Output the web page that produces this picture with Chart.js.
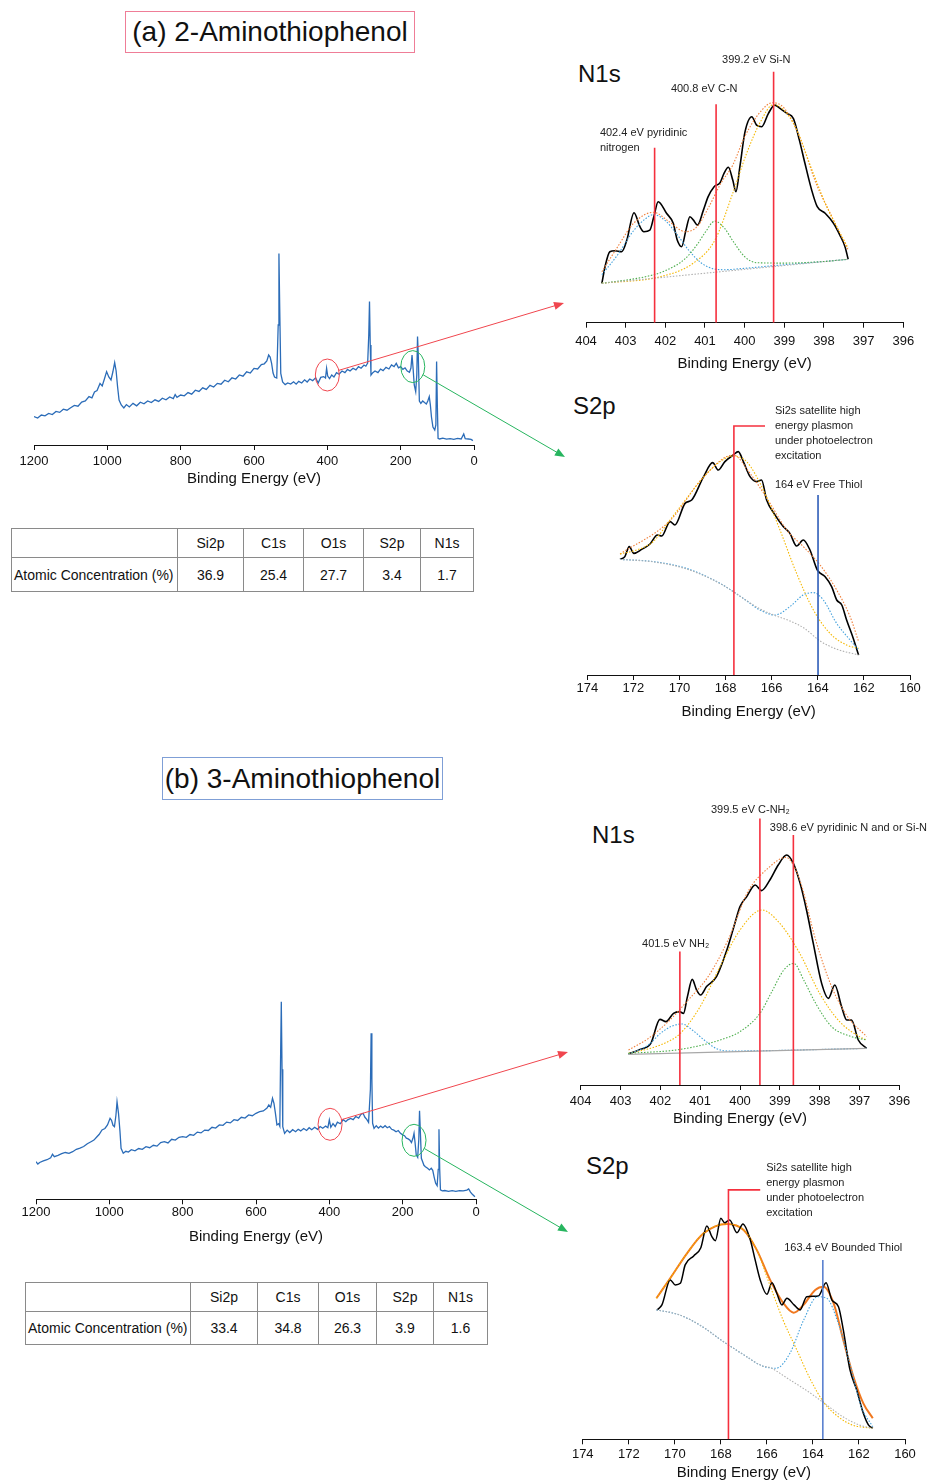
<!DOCTYPE html>
<html lang="en">
<head>
  <meta charset="UTF-8">
  <title>XPS - Aminothiophenol</title>
  <script src="https://cdn.jsdelivr.net/npm/chart.js"></script>
  <style>
    body {
      margin: 0;
      width: 934px;
      height: 1482px;
      position: relative;
      overflow: hidden;
      background: #fff;
      color: #111;
      font-family: 'Liberation Sans', Arial, sans-serif;
    }
    canvas { position: absolute; }
    .title {
      position: absolute;
      box-sizing: border-box;
      font-size: 28px;
      text-align: center;
      white-space: nowrap;
    }
    .big {
      position: absolute;
      font-size: 24px;
      line-height: 24px;
    }
    table {
      position: absolute;
      border-collapse: collapse;
      font-size: 14px;
      table-layout: fixed;
    }
    td {
      border: 1px solid #8a8a8a;
      text-align: center;
      padding: 0;
    }
    td.lab { text-align: left; padding-left: 2px; }
  </style>
</head>
<body>
  <div class="title" style="left:125px;top:11px;width:290px;height:42px;line-height:40px;border:1px solid #ef7d97">(a) 2-Aminothiophenol</div>
  <div class="title" style="left:162px;top:757px;width:281px;height:43px;line-height:41px;border:1px solid #7f9fd6">(b) 3-Aminothiophenol</div>

  <div class="big" style="left:578px;top:62px">N1s</div>
  <div class="big" style="left:573px;top:394px">S2p</div>
  <div class="big" style="left:592px;top:823px">N1s</div>
  <div class="big" style="left:586px;top:1154px">S2p</div>

  <table id="tabA" style="left:11px;top:528px;width:462px"></table>
  <table id="tabB" style="left:25px;top:1282px;width:462px"></table>

  <canvas id="n1sA" width="374" height="350" style="left:560px;top:30px"></canvas>
  <canvas id="s2pA" width="364" height="334" style="left:570px;top:395px"></canvas>
  <canvas id="n1sB" width="374" height="346" style="left:560px;top:790px"></canvas>
  <canvas id="s2pB" width="364" height="326" style="left:570px;top:1160px"></canvas>
  <canvas id="surveyA" width="580" height="266" style="left:0;top:230px"></canvas>
  <canvas id="surveyB" width="580" height="268" style="left:0;top:985px"></canvas>

  <script>
    // ---- atomic concentration tables ----
    const elements = ['Si2p', 'C1s', 'O1s', 'S2p', 'N1s'];
    const concA = [36.9, 25.4, 27.7, 3.4, 1.7];
    const concB = [33.4, 34.8, 26.3, 3.9, 1.6];

    // ---- survey spectra [binding energy, intensity] ----
    const surveyA = [
      [1200,14.2],[1190,13.5],[1180,15.0],[1170,14.6],[1160,15.8],[1150,15.2],[1140,16.8],[1130,16.3],
      [1120,17.9],[1110,17.4],[1100,18.6],[1090,19.8],[1080,19.4],[1070,21.5],[1060,22.0],[1050,24.2],
      [1042,23.6],[1035,26.5],[1028,27.2],[1020,30.8],[1014,29.5],[1008,33.0],[1002,36.7],[996,34.0],
      [990,32.5],[985,36.5],[980,41.2],[976,37.0],[972,29.0],[968,22.5],[962,20.0],[955,18.5],
      [948,20.2],[940,19.0],[930,20.8],[920,19.6],[910,21.4],[900,20.6],[890,22.0],[880,21.2],
      [870,22.6],[860,21.8],[850,23.4],[840,22.6],[830,24.0],[820,23.2],[815,25.2],[810,23.8],
      [800,25.0],[790,24.6],[780,26.2],[770,25.4],[760,27.4],[750,26.8],[740,28.6],[730,27.8],
      [720,29.8],[710,29.0],[700,30.8],[690,30.4],[680,32.4],[670,31.6],[660,33.6],[650,33.0],
      [640,35.0],[630,34.4],[620,36.6],[610,36.0],[600,38.3],[590,38.0],[580,40.2],[572,40.6],
      [565,42.0],[560,45.0],[556,44.0],[552,40.8],[548,36.0],[544,34.0],[538,33.5],[534,60],
      [532,95.8],[530,70],[527,35.8],[522,31.5],[515,30.2],[508,31.0],[500,30.5],[492,31.6],
      [485,30.4],[478,31.8],[470,31.0],[462,32.6],[455,31.5],[448,33.0],[440,32.2],[432,33.6],
      [425,31.0],[418,33.8],[410,34.2],[405,33.5],[402,38.3],[399,34.5],[394,33.2],[388,35.0],
      [382,34.0],[375,36.2],[368,35.4],[360,37.0],[352,36.2],[345,37.8],[338,37.0],[330,38.4],
      [322,37.6],[315,39.2],[308,38.4],[300,40.0],[295,39.4],[290,41.0],[287,55],[285,71.7],
      [283,50],[281,35.0],[276,36.2],[270,37.0],[262,36.2],[255,38.0],[248,37.2],[240,38.8],
      [232,38.0],[225,40.0],[218,39.2],[212,40.8],[206,38.6],[200,39.2],[194,37.8],[188,38.6],
      [182,37.0],[176,36.4],[172,38.5],[169,45.0],[166,38.0],[163,30.0],[159,26.7],[156,35],
      [154,54.2],[152,45],[149,22.0],[145,20.8],[140,22.0],[135,21.2],[130,20.5],[126,22.0],
      [122,24.2],[119,20.0],[116,14.0],[112,9.0],[107,7.5],[104,10],[102,41.7],[100,20],
      [98,3.3],[94,3.0],[85,3.4],[75,2.9],[65,3.2],[55,2.8],[45,3.3],[35,3.0],
      [28,5.5],[24,3.2],[15,3.0],[8,2.8],[3,2.2]
    ];
    const surveyB = [
      [1200,18.8],[1195,17.6],[1190,18.4],[1180,19.2],[1170,19.8],[1160,20.8],[1155,22.5],[1150,21.3],
      [1140,22.0],[1130,22.8],[1120,23.4],[1110,23.0],[1100,23.8],[1090,25.0],[1080,25.6],[1070,26.4],
      [1060,27.8],[1050,28.8],[1042,29.6],[1035,31.0],[1028,32.4],[1020,34.7],[1012,35.4],[1005,37.2],
      [998,40.5],[994,39.5],[990,37.0],[986,36.3],[982,42],[979,48.8],[975,43.0],[971,34.0],
      [968,25.5],[962,23.0],[955,24.0],[948,23.6],[940,24.8],[930,24.2],[920,25.4],[910,25.0],
      [900,26.3],[890,25.8],[880,27.0],[870,26.6],[860,28.4],[850,28.8],[840,28.2],[830,30.0],
      [820,29.6],[810,31.0],[800,31.3],[790,31.0],[780,32.4],[770,32.0],[760,33.6],[750,33.2],
      [740,34.6],[730,34.4],[720,36.0],[710,35.6],[700,37.2],[690,37.0],[680,38.6],[670,38.2],
      [660,39.8],[650,39.4],[640,41.0],[630,40.6],[620,42.2],[610,41.8],[600,43.0],[590,43.8],
      [580,44.2],[570,45.6],[565,47.2],[560,46.0],[555,50.5],[551,48.0],[547,43.0],[543,37.2],
      [538,37.8],[535,36.5],[533,70],[531,98.8],[529,65],[527,36.3],[522,33.0],[515,34.6],
      [508,33.4],[500,34.8],[492,33.8],[485,35.0],[478,34.2],[470,35.4],[462,34.4],[455,35.8],
      [448,34.8],[440,36.0],[432,35.0],[425,36.4],[418,35.5],[410,36.6],[404,35.8],[400,39.7],
      [396,36.0],[390,37.8],[384,36.4],[378,38.6],[370,37.8],[362,39.8],[355,38.8],[350,39.7],
      [342,40.4],[335,39.8],[328,41.4],[320,40.6],[314,42.4],[308,43.0],[303,41.0],[298,40.0],
      [293,38.5],[288,55],[286,83.0],[284,60],[282,38.0],[278,35.5],[272,36.8],[266,35.6],
      [260,36.6],[254,35.8],[248,36.8],[242,35.8],[236,36.4],[230,35.0],[224,34.6],[218,33.8],
      [212,34.4],[206,33.0],[200,32.2],[195,31.8],[190,30.6],[185,30.2],[180,29.5],[176,28.4],
      [172,30.5],[169,33.0],[166,28],[163,22.2],[159,21.0],[156,30],[154,44.3],[152,35],
      [149,20.5],[146,19.0],[142,17.0],[138,16.3],[132,15.5],[127,14.7],[122,15.5],[118,14.5],
      [114,11.0],[110,8.0],[106,6.8],[103,15],[101,35.0],[99,15],[97,4.7],[92,4.2],
      [85,4.4],[75,4.0],[65,4.3],[55,4.0],[45,4.3],[35,4.2],[25,4.6],[20,5.2],
      [15,3.6],[10,2.5],[3,1.3]
    ];

    // ---- N1s (a) ----
    const n1sA_raw = [
      [403.6,19.7],[403.52,28],[403.4,35.5],[403.27,36],[403.1,35.5],[402.97,41.3],[402.79,55],[402.64,48],
      [402.54,45.5],[402.39,46.3],[402.29,53],[402.18,60.5],[401.97,54.7],[401.8,49.7],[401.7,41.3],[401.59,38],
      [401.48,46.3],[401.38,53],[401.29,51.3],[401.19,48.8],[401.04,56.3],[400.92,63],[400.77,68],[400.62,70],
      [400.52,74.7],[400.41,77.7],[400.3,71.3],[400.22,65.5],[400.12,78],[399.99,95.5],[399.82,103],[399.7,98.8],
      [399.57,98],[399.4,104.7],[399.24,108.8],[399.11,107.2],[398.94,104.7],[398.77,102],[398.62,91.3],[398.48,79.7],
      [398.31,66.3],[398.17,58],[397.97,54.7],[397.76,49.7],[397.6,43.8],[397.47,38],[397.39,31.7]
    ];
    const n1sA_bg = [[403.6,19.7],[397.4,31.7]];
    const n1sA_pyr = [[403.6,24],[403.2,34],[402.8,46],[402.5,52],[402.3,54],[402.0,51],[401.7,44],[401.4,36],
      [401.1,30],[400.8,27],[400.5,26.5],[400.0,27.2],[399.0,29],[398.0,30.6],[397.4,31.7]];
    const n1sA_cn = [[403.6,19.7],[402.5,23],[402.0,26],[401.5,32],[401.2,39],[401.0,45],[400.75,50.8],[400.5,47],
      [400.3,41],[400.0,33],[399.7,30],[399.0,29.8],[398.0,30.6],[397.4,31.7]];
    const n1sA_sin = [[403.6,19.7],[402.13,23],[401.3,29.7],[400.75,41.3],[400.3,64.7],[399.95,84.7],[399.6,100.5],
      [399.28,109],[398.77,99.7],[398.27,74.7],[397.93,58],[397.39,37.2]];
    const n1sA_fit = [[403.6,25.5],[403.2,38],[402.8,49.7],[402.3,55.2],[401.9,50.5],[401.5,45.5],[401.2,48],[400.9,58],
      [400.6,69.7],[400.3,78.8],[400.0,93],[399.6,105.5],[399.3,110],[399.0,107.2],[398.6,92.2],[398.2,69.7],
      [397.8,53],[397.4,36.7]];
    const n1sA_marks = [[402.27,87.5],[400.72,109.2],[399.27,125.5]];

    // ---- S2p (a) ----
    const s2pA_raw = [
      [172.58,57.8],[172.37,59.2],[172.18,64.2],[171.98,60.8],[171.64,62.8],[171.28,65.5],[170.96,70],[170.77,69.5],
      [170.41,76.7],[170.2,75],[169.76,85.8],[169.47,87.5],[168.97,98.8],[168.56,106.2],[168.32,102.5],[168.03,106.7],
      [167.67,110],[167.45,111.7],[167.23,106.7],[166.94,99.2],[166.65,96.7],[166.44,97.5],[166.22,87.5],[165.9,80.8],
      [165.5,74.2],[165.21,70.8],[164.92,64.5],[164.63,67.5],[164.34,62.5],[164.02,52.5],[163.69,49.2],[163.4,44.2],
      [163.18,37.5],[162.96,35],[162.75,27.5],[162.46,18.3],[162.23,10]
    ];
    const s2pA_bg = [[172.58,57.8],[171.1,56.5],[169.7,53],[168.2,45.5],[167.2,38],[166.5,33],[165.8,29.5],
      [165.2,27],[164.6,23.5],[163.9,17],[163.2,13],[162.23,10]];
    const s2pA_thiol = [[172.58,57.8],[171.14,56.7],[169.69,53.3],[168.24,45.8],[167.23,38.3],[166.51,32.5],[165.86,30],
      [165.21,34.2],[164.63,40],[164.19,41.2],[163.76,37.5],[163.18,25.8],[162.6,17.5],[162.23,12.5]];
    const s2pA_sat = [[172.58,60.5],[171.86,62.5],[171.14,66.7],[170.41,77.5],[169.69,88.3],[168.97,98.8],[168.24,106.7],
      [167.67,109.5],[167.09,106.7],[166.36,92.5],[165.64,72.5],[164.92,50.8],[164.19,32.5],[163.47,20.8],[162.75,15],
      [162.23,13.3]];
    const s2pA_fit = [[172.58,60.5],[170.41,77.2],[168.97,98.8],[167.67,110],[166.94,100.8],[166.07,85.8],[165.35,72.5],
      [164.63,64.2],[163.9,55],[163.18,42.5],[162.6,29.2],[162.23,16.7]];
    const s2pA_satMark = [167.64, 124.5, 166.29];
    const s2pA_thiolMark = [163.99, 90];

    // ---- N1s (b) ----
    const n1sB_raw = [
      [402.8,15.5],[402.51,17.8],[402.24,20.8],[402.01,32.8],[401.86,31.7],[401.67,35.8],[401.52,36.7],[401.42,35.8],
      [401.32,44.2],[401.2,52.8],[401.09,47.5],[400.99,45],[400.84,49.2],[400.59,54.2],[400.33,67.5],[400.13,80.8],
      [400.0,89.2],[399.83,94.2],[399.62,100],[399.46,97.2],[399.25,102.5],[399.04,110],[398.83,115],[398.66,110.8],
      [398.49,100.8],[398.33,87.5],[398.16,70.8],[397.95,50.8],[397.78,43.3],[397.62,50],[397.45,39.2],[397.32,32.5],
      [397.2,32.5],[397.03,22.5],[396.82,18.3]
    ];
    const n1sB_bg = [[402.8,15.3],[396.82,18.3]];
    const n1sB_nh2 = [[402.8,15.5],[402.3,20],[402.0,25.8],[401.7,29.5],[401.45,30.5],[401.2,27.5],[400.9,22.5],
      [400.6,18.3],[400.3,17],[396.82,18.3]];
    const n1sB_cnh2 = [[402.8,15.8],[402.0,20],[401.5,25.8],[401.0,39.2],[400.5,59.2],[400.0,77.5],[399.45,87.5],
      [399.0,80.8],[398.5,65.8],[398.0,45.8],[397.5,31.7],[397.0,24.2],[396.82,22.5]];
    const n1sB_pyr = [[402.8,15.8],[401.5,17.8],[400.5,22.5],[400.0,26.7],[399.5,35.8],[399.2,46.7],[398.9,57.5],
      [398.65,60.8],[398.4,52.5],[398.1,40.8],[397.7,29.2],[397.2,24.2],[396.82,22.5]];
    const n1sB_fit = [[402.8,17.5],[402.3,23.3],[401.8,31.7],[401.3,42.5],[400.8,54.2],[400.3,72.5],[399.8,96.7],
      [399.3,108.3],[398.85,113.8],[398.5,102.5],[398.1,72.5],[397.7,49.2],[397.3,34.2],[396.82,24.2]];
    const n1sB_marks = [[401.51,66.7],[399.5,133.3],[398.66,125]];

    // ---- S2p (b) ----
    const s2pB_raw = [
      [170.77,64.7],[170.56,67.2],[170.2,79.7],[169.98,77.2],[169.76,78],[169.55,87.2],[169.18,91.7],[168.87,95.8],
      [168.61,106.7],[168.39,101.3],[168.24,99.3],[168.0,110.5],[167.84,108.3],[167.62,109.7],[167.3,103.3],[167.04,107.7],
      [166.72,99.7],[166.51,89.7],[166.29,79.7],[166.0,72.5],[165.78,78.3],[165.57,73],[165.35,67.2],[165.13,70.5],
      [164.82,67.2],[164.56,64.7],[164.27,71.3],[163.76,71.7],[163.43,78.3],[163.18,69.7],[162.89,66.3],[162.68,54.7],
      [162.39,34.7],[162.1,24.7],[161.81,13],[161.59,7.2],[161.4,5.5]
    ];
    const s2pB_fit = [[170.8,70.5],[170.2,80.5],[169.47,93],[168.75,103],[167.74,107.7],[167.01,104.7],[166.44,94.7],
      [165.86,79.7],[165.28,68],[164.84,63.3],[164.41,67.2],[163.9,74.7],[163.54,76.3],[163.1,68],[162.68,49.7],
      [162.24,31.3],[161.81,18],[161.4,10.5]];
    const s2pB_thiol = [[170.8,64.7],[169.8,62.2],[168.8,56.3],[168.0,49.7],[167.0,42.2],[166.2,36.7],[165.6,35.5],
      [165.0,43],[164.4,59.7],[163.8,71.3],[163.4,70.5],[162.9,58],[162.4,38],[161.9,16.3],[161.4,6.3]];
    const s2pB_sat = [[170.8,70.5],[170.2,80.5],[169.47,93],[168.75,103],[167.74,107.7],[167.01,104.7],[166.44,94.7],
      [165.9,78],[165.3,59.7],[164.7,44.7],[164.1,29.7],[163.5,18],[162.9,11.3],[162.3,7.2],[161.4,5.5]];
    const s2pB_bg = [[170.8,64.7],[169.8,62.2],[168.8,56.3],[168.0,49.7],[167.0,42.2],[166.2,36.7],[165.9,36],
      [165.0,29.7],[164.2,23.8],[163.5,18],[162.7,11.3],[162.0,7.2],[161.4,5.5]];
    const s2pB_satMark = [167.67, 124.7, 166.29];
    const s2pB_thiolMark = [163.57, 89.7];

    // ---- tables ----
    function fillTable(id, values, widths, rowH) {
      const t = document.getElementById(id);
      let html = '<colgroup>' + widths.map(w => `<col style="width:${w}px">`).join('') + '</colgroup>';
      html += `<tr style="height:${rowH[0]}px"><td></td>` + elements.map(e => `<td>${e}</td>`).join('') + '</tr>';
      html += `<tr style="height:${rowH[1]}px"><td class="lab">Atomic Concentration (%)</td>` +
        values.map(v => `<td>${v.toFixed(1)}</td>`).join('') + '</tr>';
      t.innerHTML = html;
    }
    fillTable('tabA', concA, [166, 66, 60, 60, 57, 53], [29, 34]);
    fillTable('tabB', concB, [165, 67, 61, 58, 57, 54], [29, 33]);

    // ---- chart helpers ----
    const FONT = "'Liberation Sans', Arial, sans-serif";
    const RED = '#f5303e';
    const DOT = [1.5, 1.6];

    function series(pairs, color, width, dash, smooth) {
      return {
        data: pairs.map(([x, y]) => ({ x, y })),
        borderColor: color,
        borderWidth: width,
        borderDash: dash || [],
        pointRadius: 0,
        fill: false,
        tension: smooth ? 0.4 : 0,
        cubicInterpolationMode: smooth ? 'monotone' : 'default'
      };
    }
    function vline([e, top], color) {
      return series([[e, 0], [e, top]], color, 1.6);
    }
    function bracket([e, top, end], color) {
      return series([[e, 0], [e, top], [end, top]], color, 1.6);
    }

    function notes(list) {
      return {
        id: 'notes',
        afterDatasetsDraw(chart) {
          const { ctx, scales: { x, y } } = chart;
          ctx.save();
          ctx.font = '11px ' + FONT;
          ctx.fillStyle = '#222';
          ctx.textBaseline = 'middle';
          ctx.textAlign = 'left';
          list.forEach(n => n.lines.forEach((t, i) =>
            ctx.fillText(t, x.getPixelForValue(n.e), y.getPixelForValue(n.v) + i * 15)));
          ctx.restore();
        }
      };
    }

    // circles on the survey and arrows pointing to the detail spectra
    function zoomMarks(list) {
      return {
        id: 'zoomMarks',
        afterDatasetsDraw(chart) {
          const { ctx, scales: { x, y } } = chart;
          ctx.save();
          list.forEach(m => {
            const cx = x.getPixelForValue(m.e), cy = y.getPixelForValue(m.v);
            ctx.strokeStyle = m.color;
            ctx.fillStyle = m.color;
            ctx.lineWidth = 1;
            ctx.beginPath();
            ctx.ellipse(cx, cy, 12, 16, 0, 0, Math.PI * 2);
            ctx.stroke();
            const [tx, ty] = m.to;
            const a = Math.atan2(ty - cy, tx - cx);
            const sx = cx + 12 * Math.cos(a), sy = cy + 16 * Math.sin(a);
            const ang = Math.atan2(ty - sy, tx - sx);
            ctx.beginPath();
            ctx.moveTo(sx, sy);
            ctx.lineTo(tx - 8 * Math.cos(ang), ty - 8 * Math.sin(ang));
            ctx.stroke();
            ctx.beginPath();
            ctx.moveTo(tx, ty);
            ctx.lineTo(tx - 10 * Math.cos(ang) + 4 * Math.sin(ang), ty - 10 * Math.sin(ang) - 4 * Math.cos(ang));
            ctx.lineTo(tx - 10 * Math.cos(ang) - 4 * Math.sin(ang), ty - 10 * Math.sin(ang) + 4 * Math.cos(ang));
            ctx.closePath();
            ctx.fill();
          });
          ctx.restore();
        }
      };
    }

    // ax: axis line y inside the canvas, tp: tick label gap, tt: gap above axis title
    // (Chart.js reserves the tick padding twice in the axis height)
    // the vertical scale is 2 px per intensity unit
    function makeChart(id, datasets, xr, yMax, side, ax, tp, tt, plugins) {
      const cv = document.getElementById(id);
      const axisH = 5 + 2 * tp + 15.6 + tt + 18 + 4;
      const pad = { left: side[0], right: side[1], top: ax - 2 * yMax, bottom: cv.height - ax - axisH };
      return new Chart(cv, {
        type: 'line',
        data: { datasets },
        options: {
          responsive: false,
          animation: false,
          events: [],
          layout: { padding: pad },
          plugins: { legend: { display: false }, tooltip: { enabled: false } },
          scales: {
            x: {
              type: 'linear', min: xr[0], max: xr[1], reverse: true,
              ticks: { stepSize: xr[2], color: '#111', font: { family: FONT, size: 13 }, padding: tp,
                maxRotation: 0, autoSkip: false, callback: v => String(v) },
              grid: { display: true, drawOnChartArea: false, drawTicks: true, tickLength: 5, color: '#111' },
              border: { display: true, color: '#111', width: 1 },
              title: { display: true, text: 'Binding Energy (eV)', color: '#111', font: { family: FONT, size: 15 },
                padding: { top: tt, bottom: 4 } }
            },
            y: { display: false, min: 0, max: yMax }
          }
        },
        plugins: plugins || []
      });
    }

    // ---- survey charts ----
    makeChart('surveyA', [series(surveyA, '#2b6cb8', 1.3)], [0, 1200, 200], 100,
      [34, 106], 215, 3.9, -3.4,
      [zoomMarks([
        { e: 400, v: 35, color: '#f0464e', to: [564, 73] },
        { e: 167, v: 39.2, color: '#27b55f', to: [565, 227] }
      ])]);
    makeChart('surveyB', [series(surveyB, '#2b6cb8', 1.3)], [0, 1200, 200], 100,
      [36, 104], 214.3, 0, 7.8,
      [zoomMarks([
        { e: 398, v: 37.5, color: '#f0464e', to: [568, 67] },
        { e: 169, v: 29.5, color: '#27b55f', to: [568, 247] }
      ])]);

    // ---- N1s (a) ----
    makeChart('n1sA', [
      ...n1sA_marks.map(m => vline(m, RED)),
      series(n1sA_bg, '#b0b0b0', 1.1, DOT),
      series(n1sA_cn, '#4cae4c', 1.1, DOT, true),
      series(n1sA_pyr, '#42a0dc', 1.1, DOT, true),
      series(n1sA_sin, '#f5b800', 1.1, DOT, true),
      series(n1sA_fit, '#f0803c', 1.1, DOT, true),
      series(n1sA_raw, '#000', 1.6, null, true)
    ], [396, 404, 1], 130, [26, 30.7], 292.7, 6.2, -1,
    [notes([
      { e: 400.57, v: 131.3, lines: ['399.2 eV Si-N'] },
      { e: 401.86, v: 116.8, lines: ['400.8 eV C-N'] },
      { e: 403.65, v: 94.8, lines: ['402.4 eV pyridinic', 'nitrogen'] }
    ])]);

    // ---- S2p (a) ----
    makeChart('s2pA', [
      bracket(s2pA_satMark, RED),
      vline(s2pA_thiolMark, '#2d5cb8'),
      series(s2pA_bg, '#b0b0b0', 1.1, DOT, true),
      series(s2pA_thiol, '#42a0dc', 1.1, DOT, true),
      series(s2pA_sat, '#f5b800', 1.1, DOT, true),
      series(s2pA_fit, '#f0803c', 1.1, DOT, true),
      series(s2pA_raw, '#000', 1.6, null, true)
    ], [160, 174, 2], 130, [17.3, 24], 280, 0.5, 6.4,
    [notes([
      { e: 165.86, v: 132, lines: ['Si2s satellite high', 'energy plasmon', 'under photoelectron', 'excitation'] },
      { e: 165.86, v: 95, lines: ['164 eV Free Thiol'] }
    ])]);

    // ---- N1s (b) ----
    makeChart('n1sB', [
      ...n1sB_marks.map(m => vline(m, RED)),
      series(n1sB_bg, '#a8a8a8', 1.3),
      series(n1sB_pyr, '#4cae4c', 1.1, DOT, true),
      series(n1sB_nh2, '#42a0dc', 1.1, DOT, true),
      series(n1sB_cnh2, '#f5b800', 1.1, DOT, true),
      series(n1sB_fit, '#f0803c', 1.1, DOT, true),
      series(n1sB_raw, '#000', 1.6, null, true)
    ], [396, 404, 1], 140, [20.7, 34.7], 295, 3.9, -3.4,
    [notes([
      { e: 400.73, v: 137.5, lines: ['399.5 eV C-NH\u2082'] },
      { e: 399.25, v: 128.5, lines: ['398.6 eV pyridinic N and or Si-N'] },
      { e: 402.46, v: 70.5, lines: ['401.5 eV NH\u2082'] }
    ])]);

    // ---- S2p (b) ----
    makeChart('s2pB', [
      bracket(s2pB_satMark, RED),
      vline(s2pB_thiolMark, '#5a80cf'),
      series(s2pB_bg, '#b0b0b0', 1.1, DOT, true),
      series(s2pB_thiol, '#42a0dc', 1.1, DOT, true),
      series(s2pB_sat, '#f5b800', 1.1, DOT, true),
      series(s2pB_raw, '#000', 1.5, null, true),
      series(s2pB_fit, '#f07820', 2, null, true)
    ], [160, 174, 2], 130, [12.3, 29], 279.3, 1.9, 0,
    [notes([
      { e: 166.03, v: 135.6, lines: ['Si2s satellite high', 'energy plasmon', 'under photoelectron', 'excitation'] },
      { e: 165.25, v: 95.6, lines: ['163.4 eV Bounded Thiol'] }
    ])]);
  </script>
</body>
</html>
